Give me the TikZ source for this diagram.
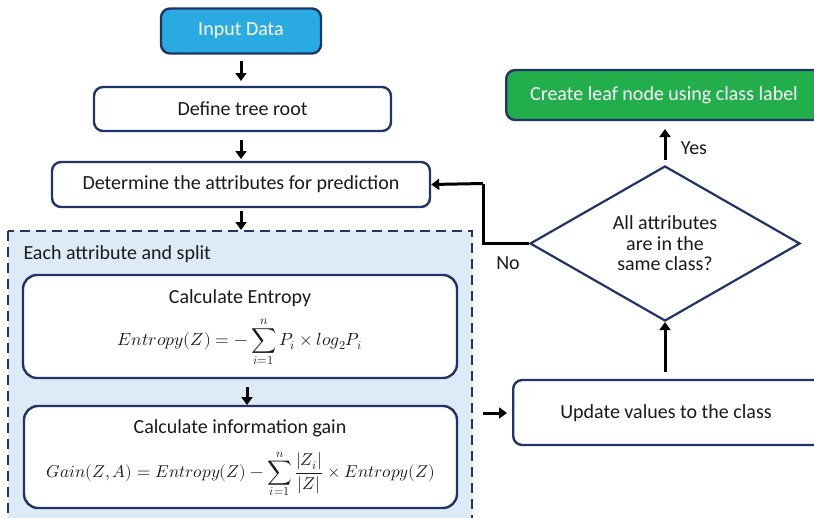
\documentclass[tikz,border=0pt]{standalone}
\usepackage{amsmath}
\usepackage{fontspec}
\usepackage{unicode-math}
\setmainfont{Carlito}
\setmathfont{Latin Modern Math}
\usetikzlibrary{arrows.meta,shapes.geometric,positioning}
\definecolor{navy}{HTML}{1F3468}
\definecolor{cyanfill}{HTML}{29ABE2}
\definecolor{leafgreen}{HTML}{21AE4B}
\definecolor{panel}{HTML}{DDEBF7}
\definecolor{ink}{HTML}{1A1A1A}
\tikzset{
  x=1pt, y=-1pt,
  stepbox/.style={draw=navy, line width=2.4pt, rounded corners=9pt, fill=white,
    text=ink, font=\fontsize{20}{24}\selectfont, inner sep=0pt},
  flow/.style={-{Triangle[length=8pt,width=11pt]}, line width=3pt, black},
  lbl/.style={font=\fontsize{20}{24}\selectfont, text=ink},
  eq/.style={font=\fontsize{17.2}{21}\selectfont, text=ink},
}
\begin{document}
\begin{tikzpicture}
\useasboundingbox (0,0) rectangle (814,517);
\clip (0,0) rectangle (814,517);

% start and root
\node[stepbox, fill=cyanfill, text=white, minimum width=160pt, minimum height=45pt]
  (input) at (241,31) {Input Data};
\node[stepbox, minimum width=297pt, minimum height=44pt] (root) at (242.5,109) {Define tree root};
\node[stepbox, minimum width=378pt, minimum height=45pt] (attr) at (241,184.5)
  {Determine the attributes for prediction};

% dashed panel for the per-attribute computations
\draw[navy, line width=2.4pt, dash pattern=on 10pt off 6pt, fill=panel]
  (8,231) rectangle (472,530);
\node[lbl, anchor=west] (panelt) at (20,254) {Each attribute and split};

\node[stepbox, minimum width=434pt, minimum height=103pt, rounded corners=14pt] (ent) at (240,326.5) {};
\node[lbl] (entt) at (240,298) {Calculate Entropy};
\node[eq, font=\fontsize{17.6}{21}\selectfont] (entf) at (240,342)
  {$\displaystyle Entropy(Z) = -\sum_{i=1}^{n} P_i \times log_2 P_i$};

\node[stepbox, minimum width=433pt, minimum height=102pt, rounded corners=14pt] (gain) at (240.5,457) {};
\node[lbl] (gaint) at (240,428) {Calculate information gain};
\node[eq] (gainf) at (241,474)
  {$\displaystyle Gain(Z,A) = Entropy(Z) - \sum_{i=1}^{n}\frac{|Z_i|}{|Z|} \times Entropy(Z)$};

% right-hand column
\node[stepbox, minimum width=320pt, minimum height=65pt, anchor=west] (upd) at (512,412.5) {};
\node[lbl] (updt) at (666,413) {Update values to the class};

\node[diamond, draw=navy, line width=2.2pt, fill=white, aspect=1.74,
  minimum width=270pt, minimum height=155pt, inner sep=0pt,
  font=\fontsize{20}{20.5}\selectfont, text=ink, align=center]
  (dec) at (665,243.5) {All attributes\\are in the\\same class?};

\node[stepbox, fill=leafgreen, text=white, minimum width=320pt, minimum height=50pt, anchor=west]
  (leaf) at (505,95) {};
\node[font=\fontsize{20}{24}\selectfont, text=white] (leaft) at (664,95) {Create leaf node using class label};

% connectors
\coordinate (a1) at (241,61);
\coordinate (a2) at (241,140);
\coordinate (a3) at (241,211);
\draw[flow] (a1) -- (241,81);
\draw[flow] (a2) -- (241,159);
\draw[flow] (a3) -- (241,230);
\draw[flow] (247,387) -- (247,405);
\draw[flow] (483,413) -- (507,413);
\draw[flow] (665,372) -- (dec.south);
\draw[flow] (dec.north) ++(0,-5) -- (665,129);
\draw[line width=3pt] (dec.west) -- (483,243.5) -- (483,183.5);
\draw[flow] (483,183.5) -- (attr.east);

\node[lbl] (yes) at (694,148) {Yes};
\node[lbl] (no) at (508,263) {No};
\end{tikzpicture}
\end{document}
